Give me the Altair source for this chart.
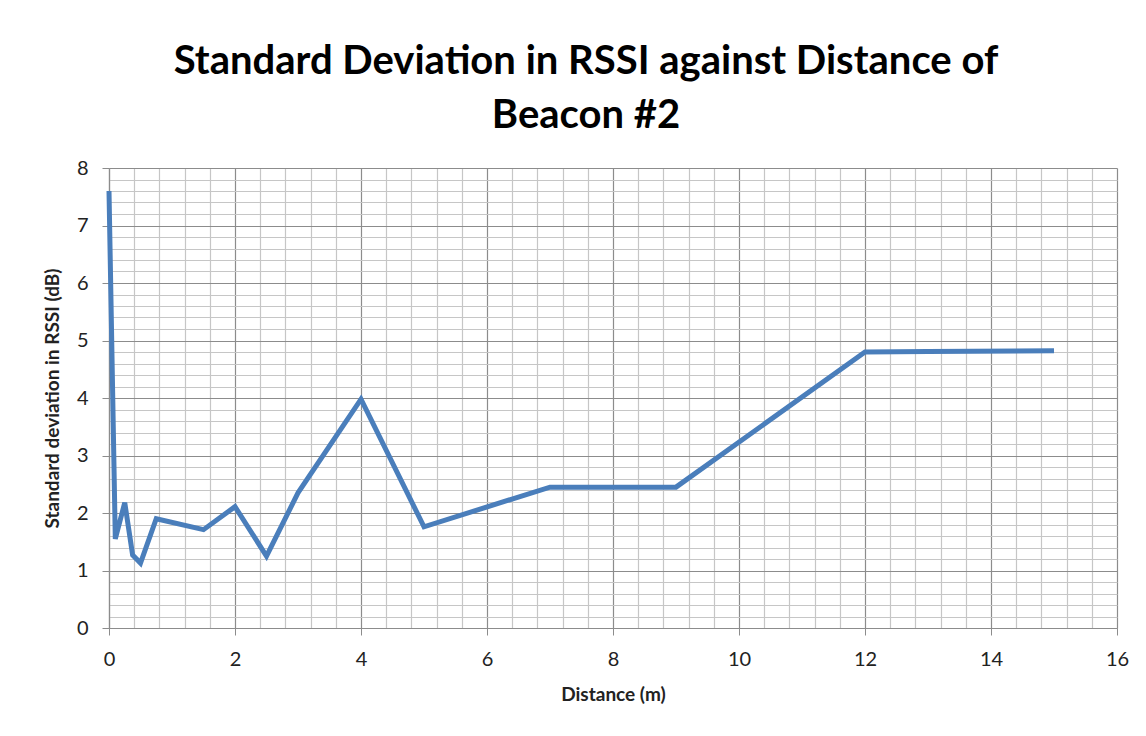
import altair as alt
import pandas as pd

distance_m = [0, 0.1, 0.25, 0.375, 0.5, 0.75, 1.5, 2, 2.5, 3, 4, 5, 7, 9, 12, 13, 15]
std_dev_db = [7.6, 1.55, 2.18, 1.27, 1.13, 1.9, 1.71, 2.11, 1.25, 2.35, 3.98, 1.76, 2.45, 2.45, 4.8, 4.81, 4.82]

x_ticks = [round(i * 0.4, 1) for i in range(41)]
y_ticks = [round(i * 0.2, 1) for i in range(41)]

df = pd.DataFrame({"d": distance_m, "s": std_dev_db})

FONT = "Lato"
MAJOR = "#8c8c8c"
MINOR = "#c6c6c6"

x_axis = alt.Axis(
    values=x_ticks,
    labelExpr="datum.value % 2 === 0 ? datum.value : ''",
    gridColor={"condition": {"test": "datum.value % 2 === 0", "value": MAJOR}, "value": MINOR},
    tickColor={"condition": {"test": "datum.value % 2 === 0", "value": MAJOR}, "value": "transparent"},
    gridWidth=1.2,
    tickSize=7,
    domainColor=MAJOR,
    domainWidth=1.2,
    labelFlush=False,
    labelFont=FONT,
    labelFontSize=20,
    labelColor="#222",
    labelPadding=14,
    title="Distance (m)",
    titleFont=FONT,
    titleFontSize=19,
    titleFontWeight="bold",
    titleColor="#222",
    titlePadding=16,
)

y_axis = alt.Axis(
    values=y_ticks,
    labelExpr="datum.value % 1 === 0 ? datum.value : ''",
    gridColor={"condition": {"test": "datum.value % 1 === 0", "value": MAJOR}, "value": MINOR},
    tickColor={"condition": {"test": "datum.value % 1 === 0", "value": MAJOR}, "value": "transparent"},
    gridWidth=1.2,
    tickSize=7,
    domainColor=MAJOR,
    domainWidth=1.2,
    labelFlush=False,
    labelFont=FONT,
    labelFontSize=20,
    labelColor="#222",
    labelPadding=14,
    title="Standard deviation in RSSI (dB)",
    titleFont=FONT,
    titleFontSize=19,
    titleFontWeight="bold",
    titleColor="#222",
    titlePadding=14,
)

chart = (
    alt.Chart(df)
    .mark_line(color="#4a7ebb", strokeWidth=5, strokeJoin="miter")
    .encode(
        x=alt.X("d:Q", scale=alt.Scale(domain=[0, 16], nice=False, zero=True), axis=x_axis),
        y=alt.Y("s:Q", scale=alt.Scale(domain=[0, 8], nice=False), axis=y_axis),
    )
    .properties(
        width=1008,
        height=460,
        title=alt.TitleParams(
            text=["Standard Deviation in RSSI against Distance of", "Beacon #2"],
            font=FONT,
            fontSize=40,
            fontWeight="bold",
            color="#000",
            anchor="middle",
            frame="bounds",
            lineHeight=54,
            offset=22,
        ),
        autosize=alt.AutoSizeParams(type="none"),
        padding={"left": 101, "top": 160, "right": 21, "bottom": 100},
        background="white",
    )
    .configure_view(strokeWidth=0)
)

chart.save("out.html", embed_options={"renderer": "svg", "actions": False})
